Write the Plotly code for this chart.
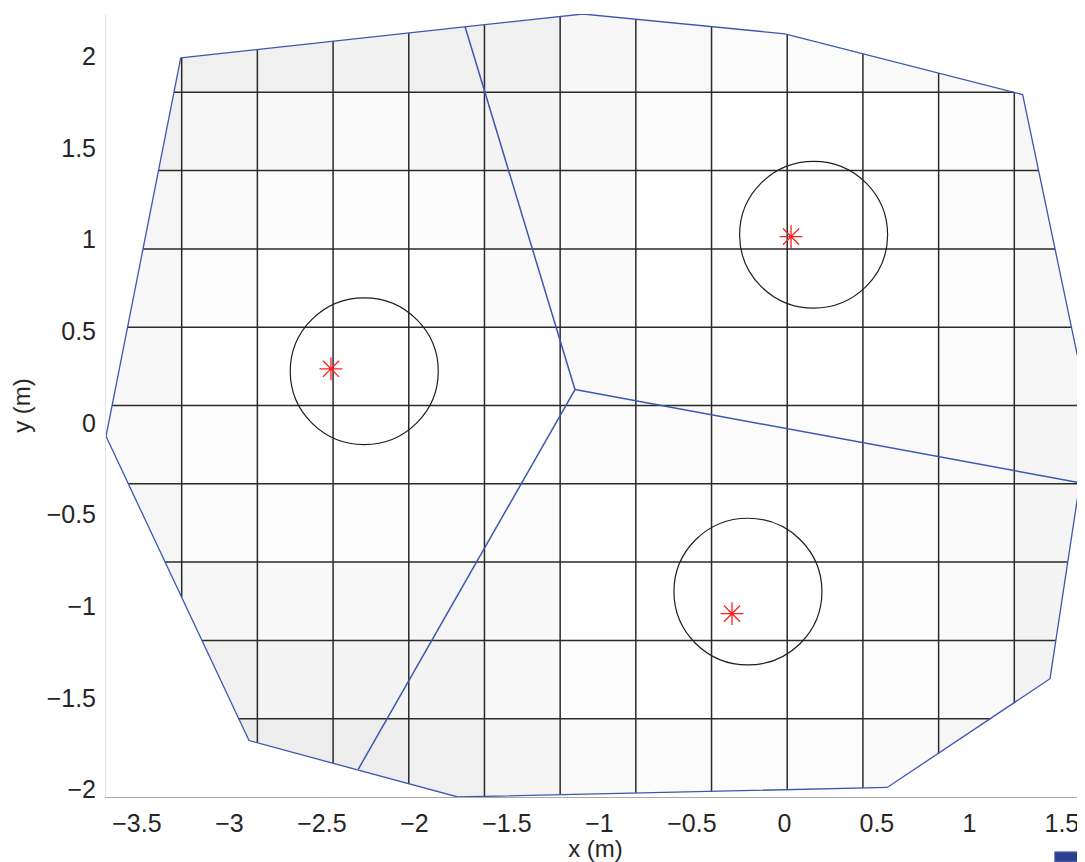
import numpy as np
import plotly.graph_objects as go

# ---------------- data ----------------
# outer region boundary (m)
region_x = [-3.263, -1.089, 0.003, 1.288, 1.652, 1.436, 0.556, -1.766, -2.894, -3.667]
region_y = [1.991, 2.230, 2.122, 1.791, 0.040, -1.395, -1.988, -2.040, -1.732, -0.073]

# grid of cells over the bounding box of the region
n_cols = 13
n_rows = 10

# gray level per cell (rows listed top -> bottom, columns left -> right)
cell_gray = [
    [239, 239, 239, 241, 239, 239, 246, 248, 250, 250, 249, 248, 245],
    [239, 246, 247, 248, 246, 243, 247, 250, 253, 254, 253, 251, 245],
    [245, 249, 250, 251, 250, 246, 249, 254, 255, 255, 255, 250, 247],
    [247, 251, 255, 255, 255, 249, 249, 255, 255, 255, 255, 251, 247],
    [247, 254, 255, 255, 255, 253, 248, 252, 253, 255, 253, 250, 245],
    [248, 252, 255, 255, 255, 254, 250, 250, 250, 251, 249, 248, 244],
    [245, 250, 251, 251, 252, 250, 253, 255, 255, 255, 252, 249, 244],
    [243, 246, 247, 247, 245, 247, 253, 255, 255, 255, 252, 249, 243],
    [240, 240, 243, 243, 243, 247, 252, 255, 255, 255, 252, 248, 242],
    [236, 235, 236, 236, 239, 244, 248, 250, 251, 251, 249, 245, 242],
]

# partition (Voronoi) lines: common vertex and the three end points on the boundary
vor_vertex_x = -1.132
vor_vertex_y = 0.182
vor_end_x = [-1.726, -2.303, 1.598]
vor_end_y = [2.160, -1.888, -0.326]

# sensors (red asterisks) and coverage circles
sensor_x = [-2.451, 0.036, -0.283]
sensor_y = [0.295, 1.016, -1.040]
circle_cx = [-2.271, 0.158, -0.197]
circle_cy = [0.282, 1.026, -0.920]
circle_r = [0.4, 0.4, 0.4]

x_ticks = [-3.5, -3, -2.5, -2, -1.5, -1, -0.5, 0, 0.5, 1, 1.5]
y_ticks = [-2, -1.5, -1, -0.5, 0, 0.5, 1, 1.5, 2]

# ---------------- geometry helpers ----------------
poly = list(zip(region_x, region_y))
area = 0.0
for i in range(len(poly)):
    x1, y1 = poly[i]
    x2, y2 = poly[(i + 1) % len(poly)]
    area += x1 * y2 - x2 * y1
orient = 1 if area > 0 else -1


def inside(p, a, b):
    c = (b[0] - a[0]) * (p[1] - a[1]) - (b[1] - a[1]) * (p[0] - a[0])
    return c * orient >= -1e-12


def inter(p, q, a, b):
    x1, y1 = p
    x2, y2 = q
    x3, y3 = a
    x4, y4 = b
    den = (x1 - x2) * (y3 - y4) - (y1 - y2) * (x3 - x4)
    t = ((x1 - x3) * (y3 - y4) - (y1 - y3) * (x3 - x4)) / den
    return (x1 + t * (x2 - x1), y1 + t * (y2 - y1))


def clip(subject):
    out = subject
    for i in range(len(poly)):
        a = poly[i]
        b = poly[(i + 1) % len(poly)]
        inp = out
        out = []
        if not inp:
            break
        s = inp[-1]
        for e in inp:
            if inside(e, a, b):
                if not inside(s, a, b):
                    out.append(inter(s, e, a, b))
                out.append(e)
            elif inside(s, a, b):
                out.append(inter(s, e, a, b))
            s = e
    return out


def span_vertical(c):
    ys = []
    for i in range(len(poly)):
        (x1, y1), (x2, y2) = poly[i], poly[(i + 1) % len(poly)]
        if (x1 - c) * (x2 - c) <= 0 and x1 != x2:
            ys.append(y1 + (c - x1) * (y2 - y1) / (x2 - x1))
    return (min(ys), max(ys)) if ys else None


def span_horizontal(c):
    xs = []
    for i in range(len(poly)):
        (x1, y1), (x2, y2) = poly[i], poly[(i + 1) % len(poly)]
        if (y1 - c) * (y2 - c) <= 0 and y1 != y2:
            xs.append(x1 + (c - y1) * (x2 - x1) / (y2 - y1))
    return (min(xs), max(xs)) if xs else None


x_edges = np.linspace(min(region_x), max(region_x), n_cols + 1)
y_edges = np.linspace(min(region_y), max(region_y), n_rows + 1)

fig = go.Figure()

# ---------------- cells ----------------
for r in range(n_rows):
    y_top = y_edges[n_rows - r]
    y_bot = y_edges[n_rows - r - 1]
    for c in range(n_cols):
        xl, xr = x_edges[c], x_edges[c + 1]
        pts = clip([(xl, y_bot), (xr, y_bot), (xr, y_top), (xl, y_top)])
        if len(pts) < 3:
            continue
        g = cell_gray[r][c]
        col = f"rgb({g},{min(255, g + 1)},{g})"
        fig.add_trace(go.Scatter(
            x=[p[0] for p in pts] + [pts[0][0]],
            y=[p[1] for p in pts] + [pts[0][1]],
            mode="lines", fill="toself", fillcolor=col,
            line=dict(width=0, color=col), hoverinfo="skip", showlegend=False))

# ---------------- grid lines ----------------
gx, gy = [], []
for c in x_edges[1:-1]:
    s = span_vertical(c)
    if s:
        gx += [c, c, None]
        gy += [s[0], s[1], None]
for c in y_edges[1:-1]:
    s = span_horizontal(c)
    if s:
        gx += [s[0], s[1], None]
        gy += [c, c, None]
fig.add_trace(go.Scatter(x=gx, y=gy, mode="lines",
                         line=dict(color="#2a2a2a", width=1.5),
                         hoverinfo="skip", showlegend=False))

# ---------------- region boundary ----------------
fig.add_trace(go.Scatter(x=region_x + [region_x[0]], y=region_y + [region_y[0]],
                         mode="lines", line=dict(color="#3a58b0", width=1.3),
                         hoverinfo="skip", showlegend=False))

# ---------------- partition lines ----------------
vx, vy = [], []
for ex, ey in zip(vor_end_x, vor_end_y):
    vx += [vor_vertex_x, ex, None]
    vy += [vor_vertex_y, ey, None]
fig.add_trace(go.Scatter(x=vx, y=vy, mode="lines",
                         line=dict(color="#3a58b0", width=1.5),
                         hoverinfo="skip", showlegend=False))

# ---------------- circles ----------------
for cx, cy, rr in zip(circle_cx, circle_cy, circle_r):
    fig.add_shape(type="circle", xref="x", yref="y",
                  x0=cx - rr, x1=cx + rr, y0=cy - rr, y1=cy + rr,
                  line=dict(color="#1e1e1e", width=1.2))

# ---------------- sensors ----------------
fig.add_trace(go.Scatter(x=sensor_x, y=sensor_y, mode="markers",
                         marker=dict(symbol="asterisk-open", size=19, color="#ff2020",
                                     line=dict(color="#ff2020", width=1.3)),
                         hoverinfo="skip", showlegend=False))

# small dark rectangle at lower right (window decoration)
fig.add_shape(type="rect", xref="paper", yref="paper",
              x0=0.969, x1=1.0, y0=-0.083, y1=-0.070,
              fillcolor="#2b3f8f", line=dict(color="#6d7fbf", width=1))

font_family = "Liberation Sans, Arial, Helvetica, sans-serif"
fig.update_layout(
    width=1077, height=854,
    margin=dict(l=98, r=0, t=6, b=65),
    paper_bgcolor="white", plot_bgcolor="white",
    font=dict(family=font_family, size=25, color="#262626"),
    showlegend=False,
)
fig.update_xaxes(range=[-3.667, 1.625], tickvals=x_ticks, showgrid=False, zeroline=False,
                 showline=True, linecolor="#aaaaaa", linewidth=1, ticks="",
                 ticklabelstandoff=4,
                 title=dict(text="x (m)", font=dict(size=24), standoff=8),
                 tickfont=dict(size=25))
fig.update_yaxes(range=[-2.040, 2.230], tickvals=y_ticks, showgrid=False, zeroline=False,
                 showline=True, linecolor="#e4e4e4", linewidth=1, ticks="",
                 ticklabelstandoff=4,
                 title=dict(text="y (m)", font=dict(size=24), standoff=10),
                 tickfont=dict(size=25))

fig.write_html("out.html")
